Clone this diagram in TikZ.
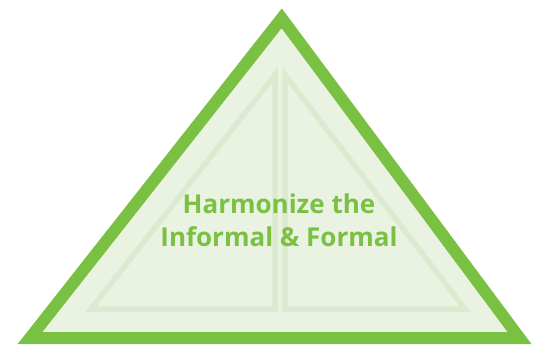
\documentclass[tikz,border=0pt]{standalone}
\usepackage{fontspec}
\setmainfont{Open Sans}
\usepackage{tikz}
\definecolor{leafgreen}{HTML}{7AC143}
\definecolor{leaffill}{HTML}{EAF3E2}
\definecolor{leafline}{HTML}{DCEBD0}

\begin{document}
\begin{tikzpicture}[x=0.02cm, y=-0.02cm]
		%%%%% START %%%%%
		
		\useasboundingbox (0, 0) rectangle (538, 346);
		
		% outer triangle
		\draw[line width=0.24cm, color=leafgreen, fill=leaffill, miter limit=20] (30, 338) -- (281.7, 18.3) -- (519.5, 338) -- cycle;
		
		% two inner halves
		\draw[line width=0.11cm, color=leafline, miter limit=20] (91, 309) -- (275, 75) -- (275, 309) -- cycle;
		\draw[line width=0.11cm, color=leafline, miter limit=20] (285, 309) -- (285, 75) -- (465, 309) -- cycle;
		
		\node[color=leafgreen, font=\fontsize{14.8pt}{18.9pt}\selectfont\bfseries, align=center] (motto) at (279, 220) {Harmonize the\\Informal \& Formal};
		
		%%%%% END %%%%%
	\end{tikzpicture}
\end{document}
